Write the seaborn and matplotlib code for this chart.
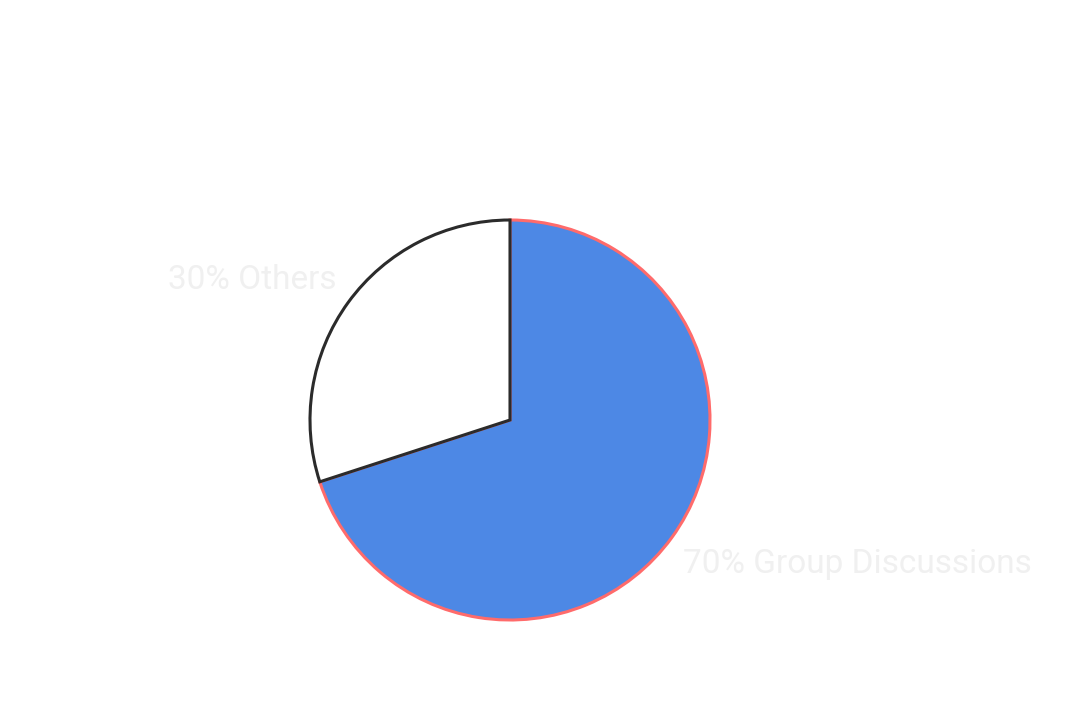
import matplotlib
matplotlib.use("Agg")
import matplotlib.pyplot as plt
import seaborn as sns
import numpy as np

categories = ["Group Discussions", "Others"]
values = [70, 30]
slice_colors = ["#4d88e5", "#ffffff"]
edge_colors = ["#ff6b6b", "#2b2b2b"]

sns.set_theme(style="white")
plt.rcParams['font.family'] = ['Roboto', 'DejaVu Sans']

fig = plt.figure(figsize=(10.8, 7.19), dpi=100)
W, H = 1080, 719
cx, cy, r = 510, 420, 200
ax = fig.add_axes([(cx - r) / W, (H - cy - r) / H, 2 * r / W, 2 * r / H])

labels = [f"{v}% {c}" for c, v in zip(categories, values)]
wedges, texts = ax.pie(values, labels=labels, colors=slice_colors, startangle=90,
                       counterclock=False, labeldistance=1.1,
                       wedgeprops=dict(linewidth=2.2),
                       textprops=dict(fontsize=24, color="#f0f0f0"))
for w, ec in zip(wedges, edge_colors):
    w.set_edgecolor(ec)
wedges[1].set_zorder(3)
for w, t in zip(wedges, texts):
    ang = np.deg2rad((w.theta1 + w.theta2) / 2)
    x = np.cos(ang) * 1.07
    y = np.sin(ang) * 1.21 - 0.055
    t.set_position((x, y))
    t.set_ha("left" if x > 0 else "right")
    t.set_va("baseline")
    t.set_clip_on(False)

ax.set_xlim(-1, 1)
ax.set_ylim(-1, 1)
ax.set_aspect("equal")
ax.axis("off")
fig.savefig("out.png", dpi=100, facecolor="white")
